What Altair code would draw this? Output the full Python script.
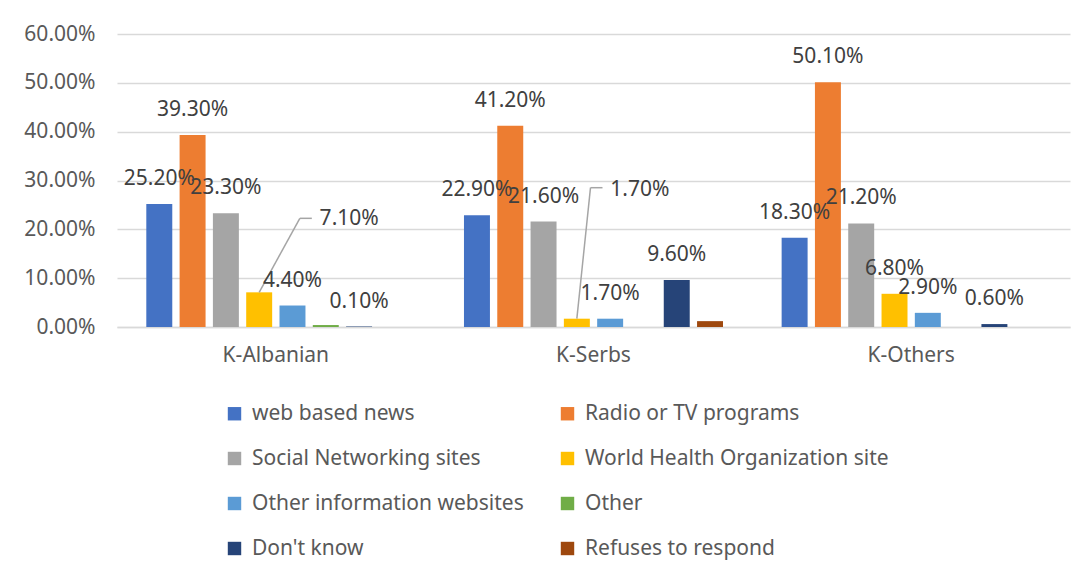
import altair as alt
import pandas as pd

groups = ["K-Albanian", "K-Serbs", "K-Others"]
series = [
    "web based news",
    "Radio or TV programs",
    "Social Networking sites",
    "\u2002World Health Organization site",
    "Other information websites",
    "Other",
    "\u2002Don't know",
    "Refuses to respond",
]
colors = ["#4472C4", "#ED7D31", "#A5A5A5", "#FFC000", "#5B9BD5", "#70AD47", "#264478", "#9E480E"]

albanian = [25.2, 39.3, 23.3, 7.1, 4.4, 0.4, 0.1, 0.0]
serbs = [22.9, 41.2, 21.6, 1.7, 1.7, 0.0, 9.6, 1.2]
others = [18.3, 50.1, 21.2, 6.8, 2.9, 0.0, 0.6, 0.0]

albanian_labels = ["25.20%", "39.30%", "23.30%", "7.10%", "4.40%", "", "0.10%", ""]
serbs_labels = ["22.90%", "41.20%", "21.60%", "1.70%", "1.70%", "", "9.60%", ""]
others_labels = ["18.30%", "50.10%", "21.20%", "6.80%", "2.90%", "", "0.60%", ""]

leader_series = series[3]
leader_groups = ["K-Albanian", "K-Serbs"]

y_ticks = [0, 10, 20, 30, 40, 50, 60]

rows = []
for g, vals, labs in zip(groups, [albanian, serbs, others], [albanian_labels, serbs_labels, others_labels]):
    for s, v, l in zip(series, vals, labs):
        rows.append({"group": g, "series": s, "value": v, "label": l,
                     "leader": (g in leader_groups and s == leader_series)})
df = pd.DataFrame(rows)

# legend laid out in two columns, read row by row
legend_order = series[0::2] + series[1::2]

FONT = "Noto Sans"
GRID = "#D9D9D9"
FS = 21

x_enc = alt.X("group:N", sort=groups,
              scale=alt.Scale(paddingInner=0, paddingOuter=0),
              axis=alt.Axis(title=None, labelAngle=0, ticks=False, domainColor=GRID,
                            domainWidth=1.5, labelFontSize=FS, labelColor="#595959",
                            labelPadding=17, labelFont=FONT))
xoff_enc = alt.XOffset("series:N", sort=series,
                       scale=alt.Scale(paddingInner=0.22, paddingOuter=0.88))
y_enc = alt.Y("value:Q", scale=alt.Scale(domain=[0, 60], nice=False),
              axis=alt.Axis(values=y_ticks, title=None,
                            labelExpr="format(datum.value, '.2f') + '%'",
                            ticks=False, domain=False, gridColor=GRID, gridWidth=1.5,
                            labelPadding=22, labelFontSize=FS, labelColor="#595959",
                            labelFont=FONT))

base = alt.Chart(df).encode(x=x_enc, xOffset=xoff_enc, y=y_enc)

bars = base.mark_bar().encode(
    color=alt.Color("series:N", sort=series,
                    scale=alt.Scale(domain=series, range=colors),
                    legend=alt.Legend(title=None, orient="none", legendX=107, legendY=369,
                                      columns=2, values=legend_order,
                                      symbolType="square", symbolSize=180,
                                      labelFontSize=FS, labelColor="#595959", labelFont=FONT,
                                      rowPadding=23, columnPadding=33, labelOffset=7,
                                      symbolStrokeWidth=0, labelLimit=500, padding=0))
)

labels = base.transform_filter("datum.label != '' && !datum.leader").mark_text(
    baseline="middle", dy=-25, fontSize=FS, color="#404040", font=FONT
).encode(text="label:N")

lab_alb = base.transform_filter("datum.leader && datum.group == 'K-Albanian'").mark_text(
    baseline="middle", dx=90, dy=-73, fontSize=FS, color="#404040", font=FONT
).encode(text="label:N")
lab_srb = base.transform_filter("datum.leader && datum.group == 'K-Serbs'").mark_text(
    baseline="middle", dx=63, dy=-129, fontSize=FS, color="#404040", font=FONT
).encode(text="label:N")

LEAD = "#A5A5A5"
rule_alb = base.transform_filter("datum.leader && datum.group == 'K-Albanian'").mark_rule(
    color=LEAD, strokeWidth=1.5, x2Offset=24, y2Offset=-74
).encode(x2="group:N", y2="value:Q")
rule_srb = base.transform_filter("datum.leader && datum.group == 'K-Serbs'").mark_rule(
    color=LEAD, strokeWidth=1.5, x2Offset=-3, y2Offset=-131
).encode(x2="group:N", y2="value:Q")

tick_base = alt.Chart(df).encode(x=alt.X("group:N", sort=groups), x2="group:N",
                                 y="value:Q", y2="value:Q")
hr_alb = tick_base.transform_filter("datum.leader && datum.group == 'K-Albanian'").mark_rule(
    color=LEAD, strokeWidth=1.5, xOffset=24, x2Offset=36, yOffset=-74, y2Offset=-74)
hr_srb = tick_base.transform_filter("datum.leader && datum.group == 'K-Serbs'").mark_rule(
    color=LEAD, strokeWidth=1.5, xOffset=-3, x2Offset=9, yOffset=-131, y2Offset=-131)

chart = alt.layer(bars, rule_alb, rule_srb, hr_alb, hr_srb, labels, lab_alb, lab_srb).properties(
    width=953, height=293,
    autosize=alt.AutoSizeParams(type="none"),
    padding={"left": 109, "top": 26, "right": 11, "bottom": 236},
).configure(font=FONT).configure_view(stroke=None)

chart.save("out.html", embed_options={"renderer": "svg", "actions": False})
